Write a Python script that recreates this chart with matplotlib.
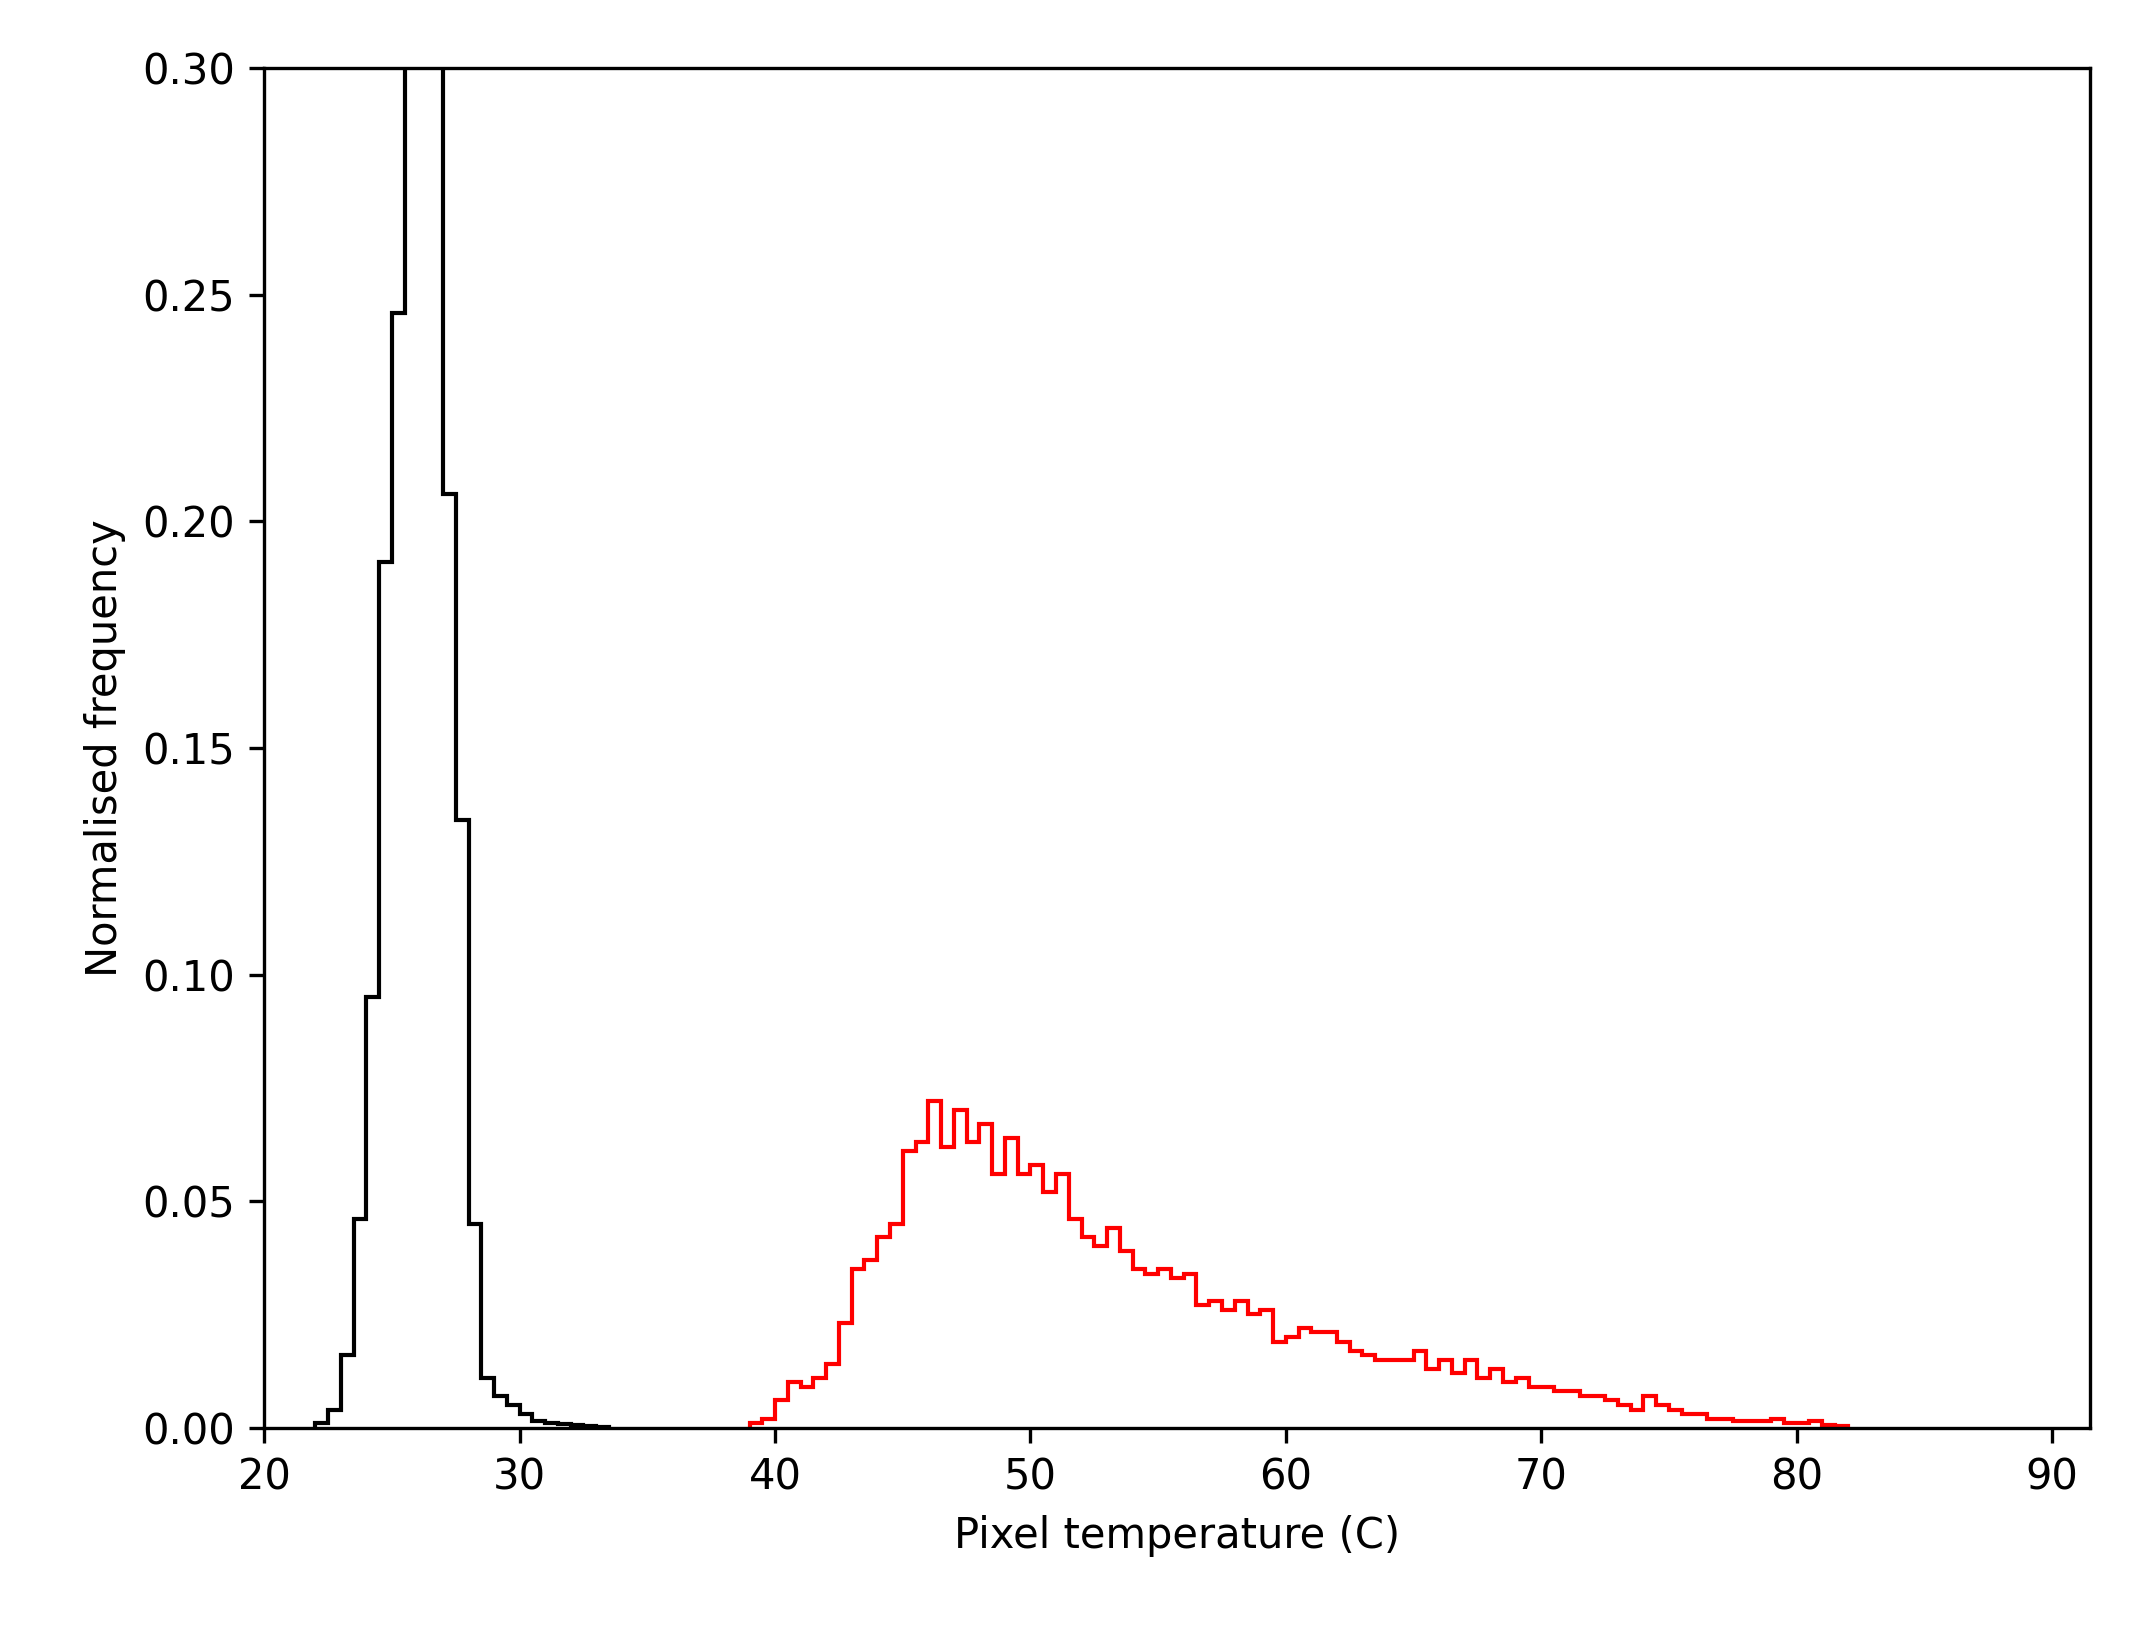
import matplotlib
matplotlib.use("Agg")
import matplotlib.pyplot as plt
import numpy as np

# Histogram values (bin width 0.5 C)
cold_start = 22.0
cold_freq = [0.001, 0.004, 0.016, 0.046, 0.095, 0.191, 0.246, 0.33, 0.36, 0.32,
             0.206, 0.134, 0.045, 0.011, 0.007, 0.005, 0.003, 0.0015, 0.001,
             0.0007, 0.0005, 0.0003, 0.0001]

hot_start = 39.0
hot_freq = [0.001, 0.002, 0.006, 0.010, 0.009, 0.011, 0.014, 0.023, 0.035, 0.037,
            0.042, 0.045, 0.061, 0.063, 0.072, 0.062, 0.070, 0.063, 0.067, 0.056,
            0.064, 0.056, 0.058, 0.052, 0.056, 0.046, 0.042, 0.040, 0.044, 0.039,
            0.035, 0.034, 0.035, 0.033, 0.034, 0.027, 0.028, 0.026, 0.028, 0.025,
            0.026, 0.019, 0.020, 0.022, 0.021, 0.021, 0.019, 0.017, 0.016, 0.015,
            0.015, 0.015, 0.017, 0.013, 0.015, 0.012, 0.015, 0.011, 0.013, 0.010,
            0.011, 0.009, 0.009, 0.008, 0.008, 0.007, 0.007, 0.006, 0.005, 0.004,
            0.007, 0.005, 0.004, 0.003, 0.003, 0.002, 0.002, 0.0015, 0.0015, 0.0015,
            0.002, 0.001, 0.001, 0.0015, 0.0005, 0.0003]

bin_w = 0.5
cold_edges = cold_start + bin_w * np.arange(len(cold_freq) + 1)
hot_edges = hot_start + bin_w * np.arange(len(hot_freq) + 1)

fig, ax = plt.subplots(figsize=(7.103, 5.42), dpi=300)
ax.stairs(cold_freq, cold_edges, color="black", linewidth=1.0)
ax.stairs(hot_freq, hot_edges, color="red", linewidth=1.0)

ax.set_xlim(20, 91.5)
ax.set_ylim(0, 0.30)
ax.set_xticks(np.arange(20, 91, 10))
ax.set_yticks(np.arange(0, 0.31, 0.05))
ax.set_xlabel("Pixel temperature (C)")
ax.set_ylabel("Normalised frequency")

fig.subplots_adjust(left=0.124, right=0.981, top=0.958, bottom=0.122)
fig.savefig("out.png")
